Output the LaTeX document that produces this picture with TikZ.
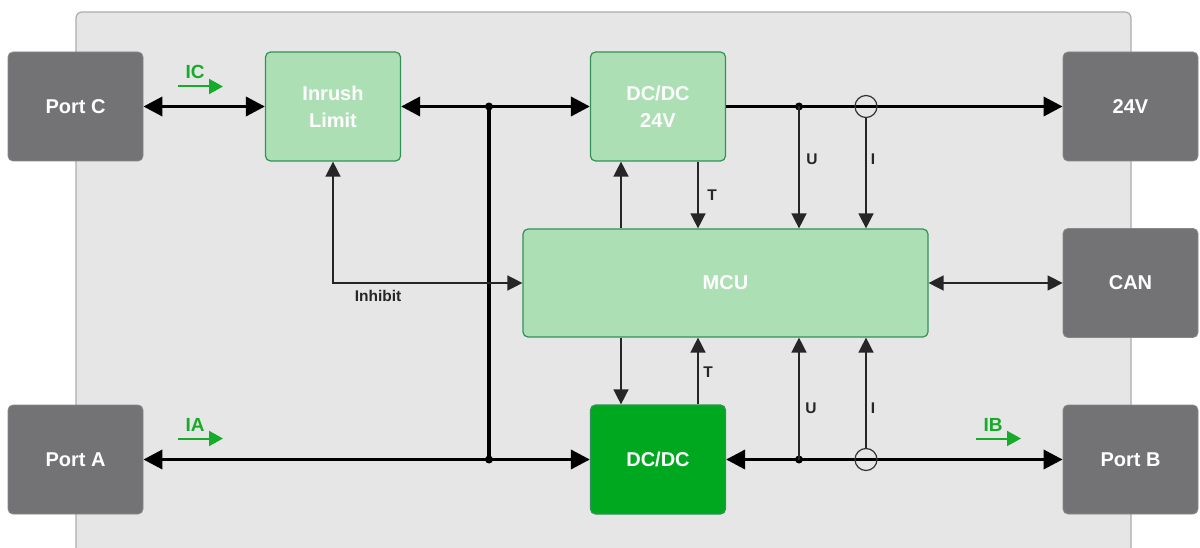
\documentclass[tikz,border=0pt]{standalone}
\usepackage{fontspec}
\setmainfont{Liberation Sans}
\usetikzlibrary{arrows.meta}
\definecolor{bgfill}{RGB}{230,230,230}
\definecolor{bgline}{RGB}{172,172,172}
\definecolor{portgray}{RGB}{115,115,117}
\definecolor{lightgreen}{RGB}{173,223,180}
\definecolor{greenline}{RGB}{50,145,90}
\definecolor{darkgreen}{RGB}{0,168,32}
\definecolor{arrowgreen}{RGB}{22,172,42}
\tikzset{
  boxbase/.style={rounded corners=5pt, minimum width=135pt, minimum height=109pt, inner sep=0pt,
    text=white, align=center, font=\bfseries\fontsize{20}{27}\selectfont},
  portbox/.style={boxbase, fill=portgray, draw=portgray!85!white, line width=0.8pt},
  greenbox/.style={boxbase, fill=lightgreen, draw=greenline, line width=1.2pt},
  darkbox/.style={boxbase, fill=darkgreen, draw=greenline, line width=1.2pt},
  bus/.style={line width=3.6pt, black},
  sig/.style={line width=1.5pt, black!85},
  BT/.tip={Triangle[length=19pt,width=19pt]},
  ST/.tip={Triangle[length=15pt,width=15pt]},
  GT/.tip={Triangle[length=14pt,width=15pt]},
  junction/.style={circle, fill=black, inner sep=0pt, minimum size=8pt},
  sensor/.style={circle, draw=black!80, line width=1.2pt, inner sep=0pt, minimum size=22pt},
  siglabel/.style={font=\bfseries\fontsize{15.5}{17}\selectfont, text=black!85, inner sep=0pt},
  curlabel/.style={font=\bfseries\fontsize{19}{21}\selectfont, text=arrowgreen, inner sep=0pt},
  curarrow/.style={line width=2pt, arrowgreen, -GT}
}
\begin{document}
\begin{tikzpicture}[x=1pt, y=-1pt]
\useasboundingbox (0,0) rectangle (1200,548);
\clip (0,0) rectangle (1200,548);
% background
\draw[fill=bgfill, draw=bgline, line width=1.2pt, rounded corners=6pt] (76,12) rectangle (1131,580);

% blocks
\node[portbox] (portC) at (75.5,106.5) {Port C};
\node[greenbox] (inrush) at (333,106.5) {Inrush\\Limit};
\node[greenbox] (dc24) at (658,106.5) {DC/DC\\24V};
\node[portbox] (v24) at (1130.5,106.5) {24V};
\node[greenbox, minimum width=405pt, minimum height=108pt] (mcu) at (725.5,283) {MCU};
\node[portbox] (can) at (1130.5,283) {CAN};
\node[portbox] (portA) at (75.5,459.5) {Port A};
\node[darkbox] (dcdc) at (658,459.5) {DC/DC};
\node[portbox] (portB) at (1130.5,459.5) {Port B};

% junctions and sensors
\coordinate (j1) at (489,106.5);
\coordinate (j2) at (489,459.5);
\coordinate (u1) at (799,106.5);
\coordinate (u2) at (799,459.5);
\coordinate (xa) at (621,0);
\coordinate (xt) at (698,0);

% power buses
\draw[bus, BT-BT] (portC) -- (inrush);
\draw[bus, BT-BT] (inrush) -- (dc24);
\draw[bus] (j1) -- (j2);
\draw[bus, -BT] (dc24) -- (v24);
\draw[bus, BT-BT] (portA) -- (dcdc);
\draw[bus, BT-BT] (dcdc) -- (portB);

\node[sensor] (ci1) at (866,106.5) {};
\node[sensor] (ci2) at (866,459.5) {};
\node[junction] at (j1) {};
\node[junction] at (j2) {};
\node[junction] at (u1) {};
\node[junction] at (u2) {};

% signals top
\draw[sig, -ST] (mcu.north -| xa) -- (dc24.south -| xa);
\draw[sig, -ST] (dc24.south -| xt) -- (mcu.north -| xt);
\draw[sig, -ST] (u1) -- (mcu.north -| u1);
\draw[sig, -ST] (ci1.south) -- (mcu.north -| ci1);
\node[siglabel] (lt1) at (712,195) {T};
\node[siglabel] (lu1) at (812,159) {U};
\node[siglabel] (li1) at (873,159) {I};

% signals bottom
\draw[sig, -ST] (mcu.south -| xa) -- (dcdc.north -| xa);
\draw[sig, -ST] (dcdc.north -| xt) -- (mcu.south -| xt);
\draw[sig, -ST] (u2) -- (mcu.south -| u2);
\draw[sig, -ST] (ci2.north) -- (mcu.south -| ci2);
\node[siglabel] (lt2) at (708,372) {T};
\node[siglabel] (lu2) at (811,408) {U};
\node[siglabel] (li2) at (873,408) {I};

% inhibit and CAN
\draw[sig, ST-ST] (inrush.south) |- (mcu.west);
\node[siglabel] (linh) at (378,296) {Inhibit};
\draw[sig, ST-ST] (mcu) -- (can);

% current indicators
\coordinate (ic0) at (178,86.5);
\coordinate (ic1) at (223,86.5);
\draw[curarrow] (ic0) -- (ic1);
\node[curlabel] (lic) at (195,72) {IC};
\coordinate (ia0) at (178,438.5);
\coordinate (ia1) at (223,438.5);
\draw[curarrow] (ia0) -- (ia1);
\node[curlabel] (lia) at (195,425) {IA};
\coordinate (ib0) at (976,438.5);
\coordinate (ib1) at (1021,438.5);
\draw[curarrow] (ib0) -- (ib1);
\node[curlabel] (lib) at (993,425) {IB};
\end{tikzpicture}
\end{document}
